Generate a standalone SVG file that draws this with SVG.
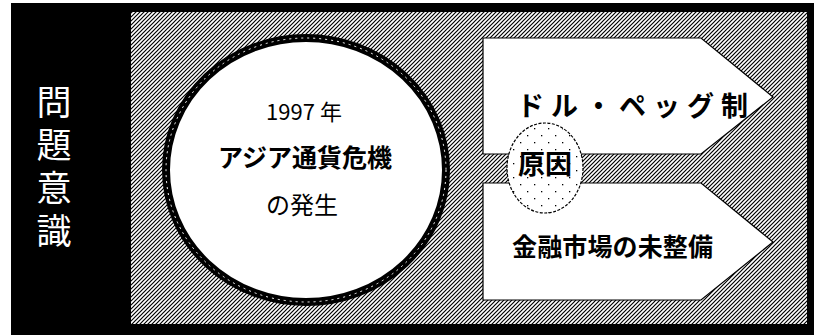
<svg xmlns="http://www.w3.org/2000/svg" width="814" height="335" viewBox="0 0 814 335">
<defs>
<pattern id="hatch" patternUnits="userSpaceOnUse" width="4" height="4">
<rect width="4" height="4" fill="#fff"/>
<path d="M-1,1 L1,-1 M0,4 L4,0 M3,5 L5,3" stroke="#000" stroke-width="1.2"/>
</pattern>
<pattern id="dots" patternUnits="userSpaceOnUse" width="14" height="14">
<rect width="14" height="14" fill="#fff"/>
<rect x="2" y="2" width="1.3" height="1.3" fill="#000"/>
<rect x="9" y="9" width="1.3" height="1.3" fill="#000"/>
</pattern>
<style>
.jp{font-family:"Noto Sans CJK JP","Noto Sans CJK SC",sans-serif;}
.b{font-weight:bold;}
.arrow{fill:#fff;stroke:#000;stroke-width:1.2;}
</style>
</defs>
<rect x="0" y="0" width="814" height="335" fill="#fff"/>
<rect x="11" y="3" width="803" height="332" fill="#000"/>
<rect x="131" y="12" width="676" height="312" fill="url(#hatch)"/>

<g id="title">
<text class="jp" x="54" y="84" font-size="35" fill="#fff" writing-mode="vertical-rl" style="writing-mode:vertical-rl" letter-spacing="8">問題意識</text>
</g>

<g id="crisis">
<ellipse cx="306" cy="170" rx="140" ry="132" fill="#fff" stroke="#000" stroke-width="8"/>
<ellipse cx="306" cy="170" rx="140" ry="132" fill="none" stroke="#fff" stroke-width="1" stroke-dasharray="2 4"/>
<text class="jp" x="304" y="120" font-size="22" text-anchor="middle">1997 年</text>
<text class="jp b" x="305" y="167" font-size="25" text-anchor="middle">アジア通貨危機</text>
<text class="jp" x="302" y="214" font-size="24" text-anchor="middle">の発生</text>
</g>

<g id="dollar-peg">
<polygon class="arrow" points="483,38 701,38 773,97 701,154 483,154"/>
<text class="jp b" x="517" y="116" font-size="27" textLength="231" lengthAdjust="spacing">ドル・ペッグ制</text>
</g>

<g id="financial-market">
<polygon class="arrow" points="483,183 701,183 773,242 701,300 483,300"/>
<text class="jp b" x="512" y="256" font-size="25" textLength="201" lengthAdjust="spacing">金融市場の未整備</text>
</g>

<g id="cause">
<ellipse cx="545" cy="168" rx="38" ry="45" fill="url(#dots)" stroke="#000" stroke-width="1.2" stroke-dasharray="3 1.5"/>
<text class="jp b" x="545" y="174" font-size="27" text-anchor="middle">原因</text>
</g>

<g id="connectors"></g>
</svg>
